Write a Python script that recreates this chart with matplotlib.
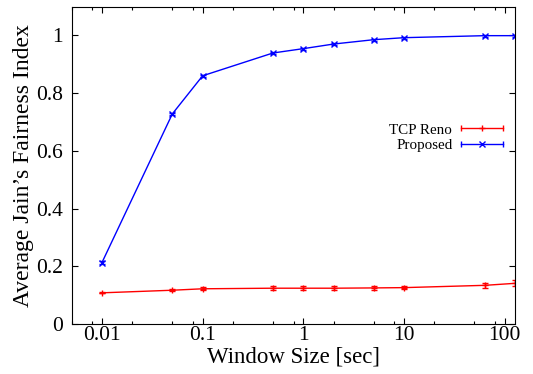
import matplotlib
matplotlib.use('Agg')
import matplotlib.pyplot as plt
from matplotlib.lines import Line2D
from matplotlib.legend_handler import HandlerLine2D, HandlerTuple
from matplotlib.ticker import LogLocator, FixedLocator, NullFormatter

plt.rcParams['font.family'] = ['Liberation Serif', 'DejaVu Serif']

# window sizes [sec]
window = [0.01, 0.05, 0.1, 0.5, 1, 2, 5, 10, 64, 128]
reno = [0.108, 0.117, 0.122, 0.124, 0.124, 0.124, 0.125, 0.126, 0.134, 0.141]
reno_err = [0.002, 0.004, 0.005, 0.006, 0.006, 0.006, 0.006, 0.006, 0.008, 0.010]
proposed = [0.213, 0.728, 0.860, 0.939, 0.954, 0.970, 0.985, 0.992, 0.999, 0.999]
proposed_err = [0.004, 0.004, 0.003, 0.003, 0.003, 0.003, 0.003, 0.003, 0.003, 0.003]

fig = plt.figure(figsize=(5.33, 3.74), dpi=100)
ax = fig.add_axes([0.1345, 0.1337, 0.8325, 0.8489])

ax.errorbar(window, reno, yerr=reno_err, color='red', lw=1, marker='+', ms=5,
            mew=1, capsize=2.5, elinewidth=1)
ax.errorbar(window, proposed, yerr=proposed_err, color='blue', lw=1, marker='x',
            ms=4, mew=1, capsize=2.5, elinewidth=1)

ax.set_xscale('log')
ax.set_xlim(0.005, 128)
ax.set_ylim(0, 1.1)
ax.xaxis.set_major_locator(FixedLocator([0.01, 0.1, 1, 10, 100]))
ax.set_xticklabels(['0.01', '0.1', '1', '10', '100'])
ax.xaxis.set_minor_locator(LogLocator(base=10, subs=(2, 5, 8)))
ax.xaxis.set_minor_formatter(NullFormatter())
ax.set_yticks([0, 0.2, 0.4, 0.6, 0.8, 1])
ax.set_yticklabels(['0', '0.2', '0.4', '0.6', '0.8', '1'])

ax.tick_params(which='both', direction='in', top=True, right=True, labelsize=15.5)
ax.tick_params(which='major', length=4, width=0.8)
ax.tick_params(which='minor', length=2, width=0.8)
ax.tick_params(axis='y', pad=6.5)
ax.tick_params(axis='x', pad=1.7)

ax.set_xlabel('Window Size [sec]', fontsize=16.5, labelpad=1)
ax.set_ylabel('Average Jain’s Fairness Index', fontsize=17, labelpad=1)

# gnuplot style legend entries: line with end caps and centre marker
caps_r = Line2D([], [], color='red', lw=1, marker='|', ms=5, mew=1)
mark_r = Line2D([], [], color='red', lw=0, marker='+', ms=5, mew=1)
caps_b = Line2D([], [], color='blue', lw=1, marker='|', ms=5, mew=1)
mark_b = Line2D([], [], color='blue', lw=0, marker='x', ms=4, mew=1)
hmap = {
    caps_r: HandlerLine2D(numpoints=2, marker_pad=0),
    caps_b: HandlerLine2D(numpoints=2, marker_pad=0),
    mark_r: HandlerLine2D(numpoints=1),
    mark_b: HandlerLine2D(numpoints=1),
    tuple: HandlerTuple(ndivide=1),
}
ax.legend([(caps_r, mark_r), (caps_b, mark_b)], ['TCP Reno', 'Proposed'],
          handler_map=hmap, markerfirst=False, frameon=False, fontsize=10.8,
          handlelength=2.75, handletextpad=0.6, labelspacing=0.15,
          borderpad=0, borderaxespad=0, loc='center right',
          bbox_to_anchor=(0.971, 0.587))

fig.savefig('out.png', dpi=100)
